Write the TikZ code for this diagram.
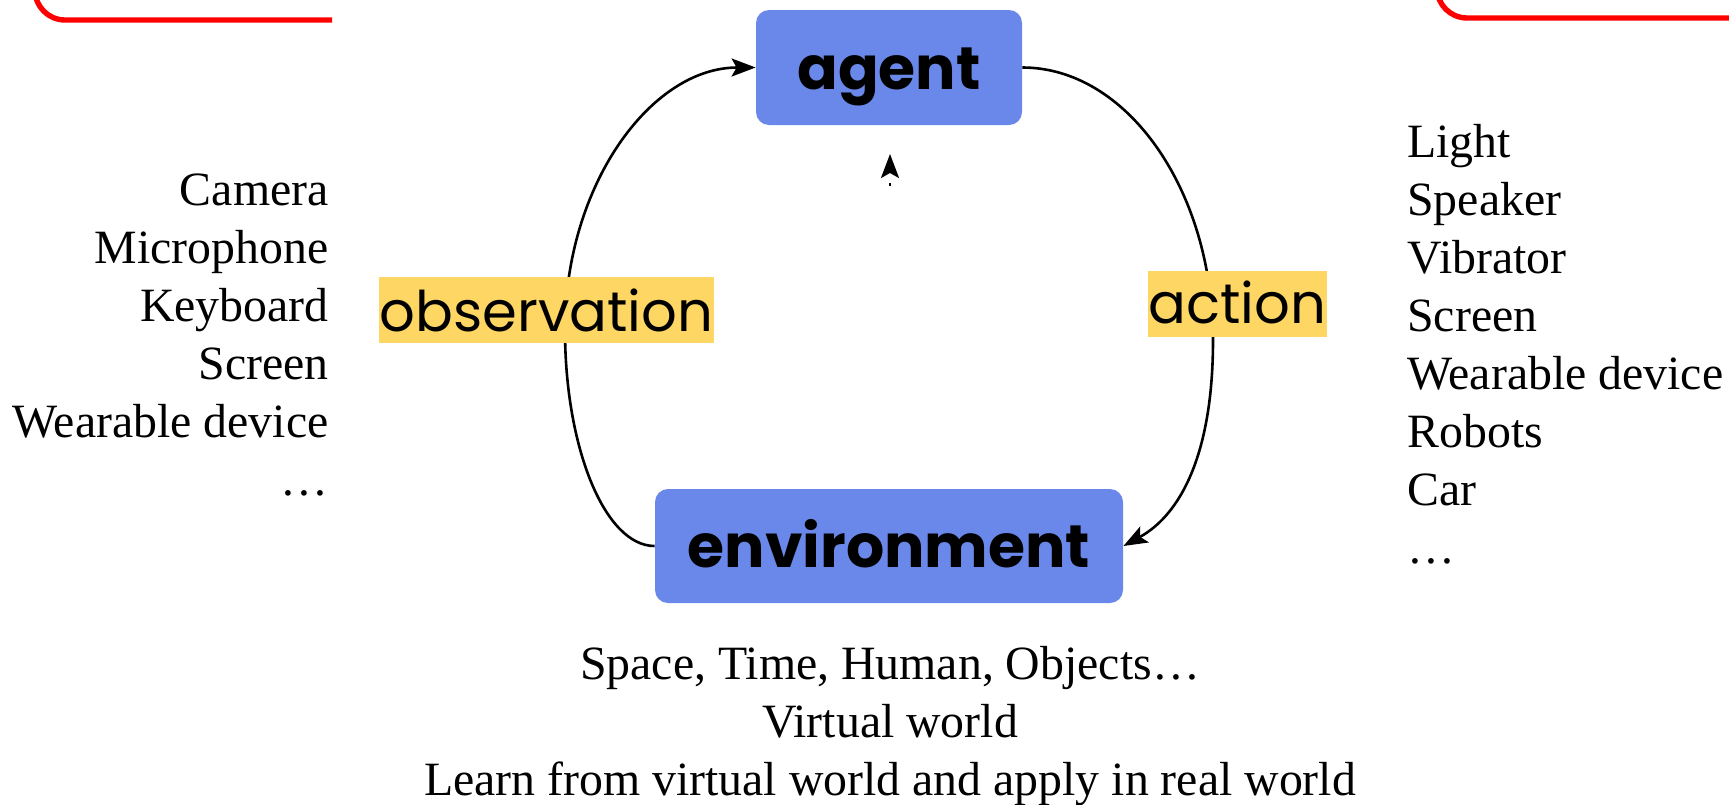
\documentclass[tikz,border=0pt]{standalone}
\usepackage{fontspec}
\setmainfont{Liberation Serif}
\newfontfamily\labelfont{Poppins}
\usetikzlibrary{arrows.meta}
\definecolor{boxblue}{RGB}{106,136,233}
\definecolor{tagyellow}{RGB}{253,214,99}
\definecolor{framered}{RGB}{255,0,0}
\begin{document}
\begin{tikzpicture}[x=0.5pt,y=-0.5pt,
  block/.style={fill=boxblue, rounded corners=6.5pt, inner sep=0pt,
    font=\labelfont\bfseries\fontsize{30}{36}\selectfont},
  tag/.style={fill=tagyellow, inner sep=0pt,
    font=\labelfont\fontsize{28}{34}\selectfont},
  listtext/.style={inner sep=0pt, font=\fontsize{23.9}{29}\selectfont},
  flow/.style={line width=1.3pt, -{Stealth[length=12pt,width=9pt,inset=2.5pt]}},
  framebar/.style={draw=framered, line width=2.7pt}
]
\useasboundingbox (0,0) rectangle (1729,804);
\clip (0,0) rectangle (1729,804);

% partial red frames along the top edge
\draw[framebar, rounded corners=15pt] (35,-60) -- (35,20) -- (332,20);
\draw[framebar, rounded corners=15pt] (1437,-60) -- (1437,18) -- (1760,18);

% agent and environment blocks
\node[block, minimum width=133pt, text height=39.5pt, text depth=18pt] (agent) at (889,67.5) {agent};
\node[block, minimum width=234pt, text height=39pt, text depth=18pt] (env) at (889,546) {environment};

% feedback loop
\coordinate (obsbend) at (565,330);
\coordinate (actbend) at (1213,340);
\draw[flow] (env.west) .. controls (605,546) and (565,448) .. (obsbend)
  .. controls (565,185) and (651,67.5) .. (agent.west);
\draw (agent.east) [line width=1.3pt] .. controls (1127,67.5) and (1213,190) .. (actbend);
\draw[flow] (actbend) .. controls (1213,455) and (1180,515) .. (env.east);

% small cue arrow under the agent
\coordinate (cuetail) at (890,186);
\coordinate (cuetip) at (890,154);
\draw[flow, dash pattern=on 1.6pt off 20pt] (cuetail) -- (cuetip);

% loop labels
\node[tag, minimum width=167.5pt, text height=27pt, text depth=6pt] (obs) at (546.5,310) {observation};
\node[tag, minimum width=89.5pt, text height=26pt, text depth=7pt] (act) at (1237.5,304) {action};

% sensors
\foreach \t [count=\i] in {Camera, Microphone, Keyboard, Screen, Wearable device, …}
  \node[listtext, anchor=base east] (sense\i) at (329,147+58*\i) {\t};

% actuators
\foreach \t [count=\i] in {Light, Speaker, Vibrator, Screen, Wearable device, Robots, Car, …}
  \node[listtext, anchor=base west] (actu\i) at (1407,99+58*\i) {\t};

% environment notes
\node[listtext, anchor=base] (note1) at (890,679) {Space, Time, Human, Objects…};
\node[listtext, anchor=base] (note2) at (890,737) {Virtual world};
\node[listtext, anchor=base] (note3) at (890,795) {Learn from virtual world and apply in real world};
\end{tikzpicture}
\end{document}
